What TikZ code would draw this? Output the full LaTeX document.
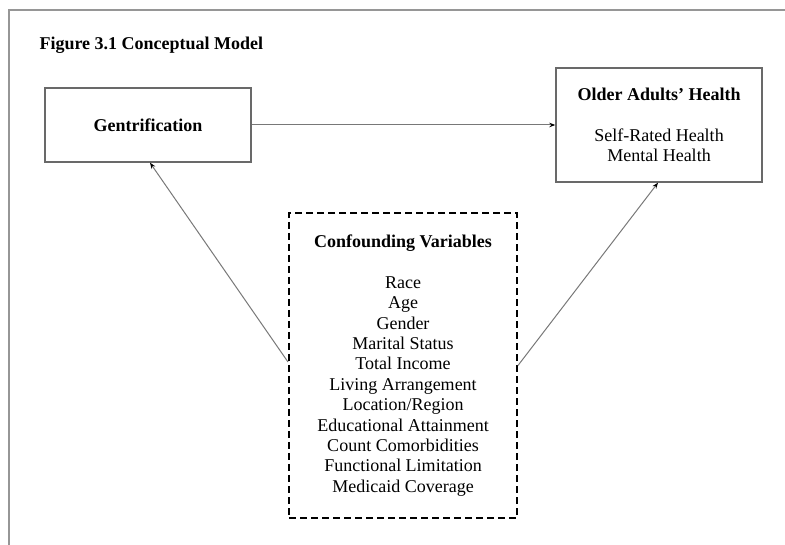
\documentclass[tikz,border=0pt]{standalone}
\usepackage{fontspec}
\setmainfont{Liberation Serif}
\usepackage{tikz}
\usetikzlibrary{arrows.meta,positioning,calc}
\usepackage{xcolor}
\definecolor{framegray}{RGB}{150,150,150}
\definecolor{boxgray}{RGB}{105,105,105}
\definecolor{linegray}{RGB}{120,120,120}

\begin{document}
\begin{tikzpicture}[
    x=1pt, y=-1pt,
    txt/.style={font=\fontsize{18}{20.4}\selectfont, align=center},
    varbox/.style={txt, draw=boxgray, line width=1.4pt, rectangle, inner sep=0pt},
    confbox/.style={txt, draw=black, line width=2pt, dash pattern=on 7pt off 4pt, inner sep=0pt},
    link/.style={-{Stealth[length=6pt, width=4.5pt, black]}, line width=1pt, linegray},
]
    \useasboundingbox (0,0) rectangle (785,545);
    \draw[framegray, line width=1.5pt] (785,10) -- (9,10) -- (9,545);
    \node[txt, anchor=base west, font=\fontsize{18}{20.4}\selectfont\bfseries] (title) at (36,50) {Figure 3.1 Conceptual Model};

    \node[varbox, minimum width=206pt, minimum height=74pt] (gent) at (148,125) {\textbf{Gentrification}};
    \node[varbox, minimum width=206pt, minimum height=114pt] (health) at (659,125)
        {\textbf{Older Adults' Health}\\[20.4pt] Self-Rated Health\\ Mental Health};
    \node[confbox, minimum width=228pt, minimum height=305pt] (conf) at (403,365.5)
        {\textbf{Confounding Variables}\\[20.4pt]
         Race\\ Age\\ Gender\\ Marital Status\\ Total Income\\ Living Arrangement\\
         Location/Region\\ Educational Attainment\\ Count Comorbidities\\
         Functional Limitation\\ Medicaid Coverage};

    \draw[link] (gent.east) -- (health.west);
    \draw[link] ([yshift=3.5pt]conf.west) -- ([xshift=2pt]gent.south);
    \draw[link] (conf.east) -- ([xshift=-1pt]health.south);
\end{tikzpicture}
\end{document}
